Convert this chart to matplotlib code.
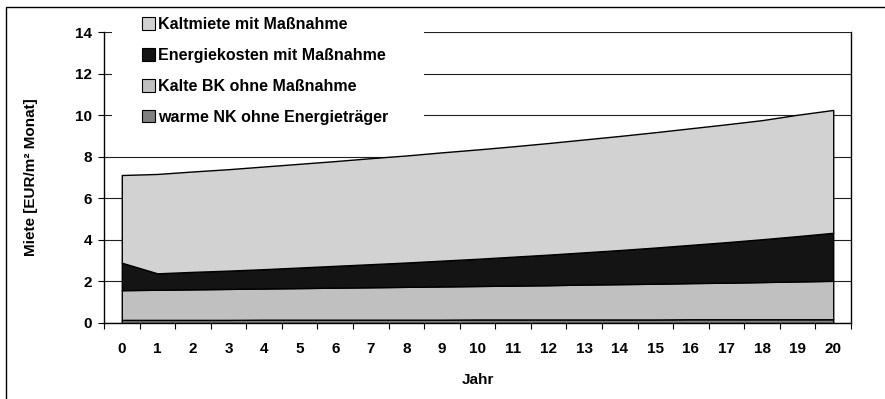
import matplotlib
matplotlib.use("Agg")
import matplotlib.pyplot as plt
from matplotlib.patches import Rectangle

plt.rcParams['font.family'] = ['Liberation Sans', 'DejaVu Sans']
plt.rcParams['font.weight'] = 'bold'

# values (EUR/m² Monat), stacked bottom to top
years = list(range(21))
warme_nk = [0.15, 0.15, 0.15, 0.15, 0.16, 0.16, 0.16, 0.16, 0.16, 0.16, 0.17,
            0.17, 0.17, 0.17, 0.17, 0.17, 0.18, 0.18, 0.18, 0.18, 0.18]
kalte_bk = [1.43, 1.45, 1.47, 1.49, 1.50, 1.52, 1.54, 1.56, 1.58, 1.60, 1.61,
            1.63, 1.65, 1.68, 1.70, 1.72, 1.74, 1.76, 1.79, 1.82, 1.85]
energie = [1.32, 0.79, 0.84, 0.88, 0.93, 0.99, 1.05, 1.11, 1.17, 1.24, 1.31,
           1.39, 1.47, 1.55, 1.64, 1.74, 1.84, 1.95, 2.06, 2.18, 2.31]
kaltmiete = [4.22, 4.78, 4.83, 4.88, 4.94, 4.99, 5.04, 5.10, 5.15, 5.21, 5.26,
             5.31, 5.37, 5.43, 5.49, 5.55, 5.61, 5.67, 5.73, 5.84, 5.91]

labels = ['warme NK ohne Energieträger', 'Kalte BK ohne Maßnahme',
          'Energiekosten mit Maßnahme', 'Kaltmiete mit Maßnahme']
colors = ['#808080', '#c0c0c0', '#141414', '#d2d2d2']

fig = plt.figure(figsize=(8.85, 3.99), dpi=100)
ax = fig.add_axes([104 / 885, 1 - 323 / 399, 747 / 885, 291 / 399])

polys = ax.stackplot(years, warme_nk, kalte_bk, energie, kaltmiete,
                     colors=colors, labels=labels, edgecolor='black', linewidth=1)

ax.set_xlim(-0.5, 20.5)
ax.set_ylim(0, 14)
ax.set_yticks(range(0, 15, 2))
ax.set_xticks(years)
ax.set_xticks([y - 0.5 for y in years] + [20.5], minor=True)
ax.tick_params(axis='x', which='major', length=0, pad=14, labelsize=11)
ax.tick_params(axis='x', which='minor', length=4, width=0.8, direction='out')
ax.tick_params(axis='y', length=4.5, width=0.8, pad=4, labelsize=11)

ax.set_axisbelow(True)
ax.yaxis.grid(True, color='#202020', linewidth=0.8)
ax.spines['top'].set_visible(False)
for s in ['left', 'right', 'bottom']:
    ax.spines[s].set_linewidth(1)

ax.set_xlabel('Jahr', fontsize=11, fontweight='bold')
ax.set_ylabel('Miete [EUR/m² Monat]', fontsize=11, fontweight='bold')
ax.xaxis.set_label_coords(0.5, -0.172)
ax.yaxis.set_label_coords(-0.089, 0.5)

# white box behind the legend hides the gridlines
ax.add_patch(Rectangle((112 / 885, 1 - 140 / 399), 312 / 885, 115 / 399,
                       transform=fig.transFigure, facecolor='white',
                       edgecolor='none', zorder=1.5, clip_on=False))

leg = ax.legend(polys[::-1], labels[::-1], loc='upper left',
                bbox_to_anchor=(142 / 885, 1 - 17 / 399), bbox_transform=fig.transFigure,
                frameon=False, borderpad=0, borderaxespad=0, fontsize=11.5,
                handlelength=0.8, handleheight=0.8, handletextpad=0.2,
                labelspacing=1.0)
for p in leg.get_patches():
    p.set_linewidth(0.8)
leg.set_zorder(3)

# outer chart frame (only left and top edges visible in the crop)
fig.add_artist(Rectangle((6 / 885, -0.5), 2, 1.5 - 7 / 399, transform=fig.transFigure,
                         fill=False, edgecolor='black', linewidth=1))

fig.savefig('out.png', dpi=100)
